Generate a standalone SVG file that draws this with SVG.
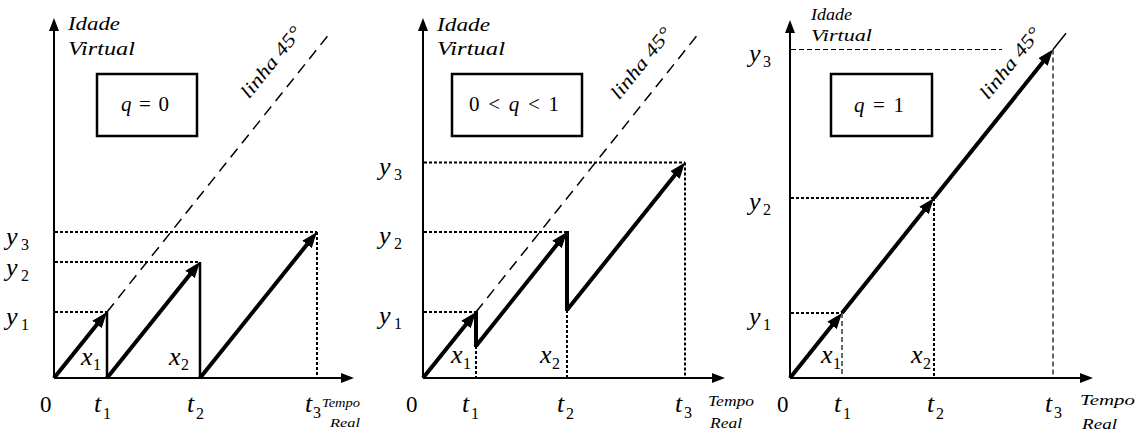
<svg xmlns="http://www.w3.org/2000/svg" width="1143" height="436" viewBox="0 0 1143 436">
<defs>
<marker id="ah" markerUnits="userSpaceOnUse" markerWidth="16" markerHeight="12" refX="6" refY="6" orient="auto"><path d="M0,0 L16,6 L0,12 Z" fill="#000"/></marker>
<marker id="axh" markerUnits="userSpaceOnUse" markerWidth="13" markerHeight="10" refX="5" refY="5" orient="auto"><path d="M0,0 L13,5 L0,10 Z" fill="#000"/></marker>
</defs>
<style>
.axis{stroke:#000;stroke-width:2;fill:none;marker-end:url(#axh)}
.thick{stroke:#000;stroke-width:4;fill:none;marker-end:url(#ah)}
.seg{stroke:#000;stroke-width:4;fill:none}
.drop{stroke:#000;stroke-width:2.5;fill:none}
.dot{stroke:#000;stroke-width:2;stroke-dasharray:3 2;fill:none}
.thin{stroke:#000;stroke-width:1.2;stroke-dasharray:5 3;fill:none}
.dash45{stroke:#000;stroke-width:1.5;stroke-dasharray:11 7;fill:none}
.box{fill:#fff;stroke:#000;stroke-width:2.5}
text{fill:#000}
.v{font-family:"Liberation Serif",serif;font-style:italic;font-size:26px}
.s{font-family:"Liberation Serif",serif;font-size:16px}
.n{font-family:"Liberation Serif",serif;font-size:23px}
.lab{font-family:"Liberation Serif",serif;font-style:italic}
.q{font-family:"Liberation Serif",serif;font-size:21px}
</style>
<rect width="1143" height="436" fill="#fff"/>

<!-- Panel 1 -->
<g id="panel1">
  <g id="p1-axes">
    <path class="axis" d="M54,378 V26"/>
    <path class="axis" d="M54,378 H346"/>
  </g>
  <g id="p1-guides">
    <path class="dot" d="M55,312 H107 M55,262 H200 M55,232 H317 M317,232 V378"/>
    <path class="dash45" d="M107,312 L330,33"/>
  </g>
  <g id="p1-box">
    <rect class="box" x="97" y="74" width="100" height="62"/>
    <text class="q" x="145" y="111" text-anchor="middle" textLength="48"><tspan font-style="italic">q</tspan> = 0</text>
  </g>
  <g id="p1-labels">
    <text class="lab" x="68" y="30" font-size="18" textLength="52" lengthAdjust="spacingAndGlyphs">Idade</text>
    <text class="lab" x="68" y="55" font-size="18" textLength="67" lengthAdjust="spacingAndGlyphs">Virtual</text>
    <text class="lab" x="276" y="66" font-size="19" text-anchor="middle" textLength="86" lengthAdjust="spacingAndGlyphs" transform="rotate(-51.3 276 66)">linha 45°</text>
    <text class="v" x="6" y="245">y</text><text class="s" x="21" y="250">3</text>
    <text class="v" x="6" y="276">y</text><text class="s" x="21" y="281">2</text>
    <text class="v" x="6" y="325">y</text><text class="s" x="21" y="330">1</text>
    <text class="v" x="81" y="365">x</text><text class="s" x="93" y="370">1</text>
    <text class="v" x="169" y="365">x</text><text class="s" x="181" y="370">2</text>
    <text class="n" x="40" y="412">0</text>
    <text class="v" x="94" y="412">t</text><text class="s" x="103" y="419">1</text>
    <text class="v" x="187" y="412">t</text><text class="s" x="196" y="419">2</text>
    <text class="v" x="305" y="412">t</text><text class="s" x="313" y="418">3</text>
    <text class="lab" x="322" y="407" font-size="13" textLength="38" lengthAdjust="spacingAndGlyphs">Tempo</text>
    <text class="lab" x="330" y="427" font-size="13" textLength="30" lengthAdjust="spacingAndGlyphs">Real</text>
  </g>
</g>

<!-- Panel 2 -->
<g id="panel2">
  <g id="p2-axes">
    <path class="axis" d="M423,378 V26"/>
    <path class="axis" d="M423,378 H717"/>
  </g>
  <g id="p2-guides">
    <path class="dot" d="M424,312 H476 M424,232 H567 M424,162.5 H685 M476,346 V378 M567,310 V378 M685,162.5 V378"/>
    <path class="dash45" d="M476,312 L699,33"/>
  </g>
  <g id="p2-box">
    <rect class="box" x="452" y="74" width="130" height="62"/>
    <text class="q" x="514" y="111" text-anchor="middle" textLength="90">0 &lt; <tspan font-style="italic">q</tspan> &lt; 1</text>
  </g>
  <g id="p2-labels">
    <text class="lab" x="437" y="31" font-size="18" textLength="53" lengthAdjust="spacingAndGlyphs">Idade</text>
    <text class="lab" x="437" y="55" font-size="18" textLength="68" lengthAdjust="spacingAndGlyphs">Virtual</text>
    <text class="lab" x="646" y="67" font-size="19" text-anchor="middle" textLength="86" lengthAdjust="spacingAndGlyphs" transform="rotate(-51.3 646 67)">linha 45°</text>
    <text class="v" x="379" y="175">y</text><text class="s" x="394" y="180">3</text>
    <text class="v" x="379" y="244">y</text><text class="s" x="394" y="249">2</text>
    <text class="v" x="379" y="324">y</text><text class="s" x="394" y="329">1</text>
    <text class="v" x="451" y="363">x</text><text class="s" x="463" y="369">1</text>
    <text class="v" x="540" y="363">x</text><text class="s" x="552" y="369">2</text>
    <text class="n" x="406" y="412">0</text>
    <text class="v" x="462" y="412">t</text><text class="s" x="471" y="419">1</text>
    <text class="v" x="557" y="412">t</text><text class="s" x="566" y="419">2</text>
    <text class="v" x="675" y="412">t</text><text class="s" x="684" y="418">3</text>
    <text class="lab" x="708" y="406" font-size="14" textLength="46" lengthAdjust="spacingAndGlyphs">Tempo</text>
    <text class="lab" x="710" y="428" font-size="14" textLength="32" lengthAdjust="spacingAndGlyphs">Real</text>
  </g>
</g>

<!-- Panel 3 -->
<g id="panel3">
  <g id="p3-axes">
    <path class="axis" d="M790,378 V28"/>
    <path class="axis" d="M790,378 H1085"/>
  </g>
  <g id="p3-guides">
    <path class="dot" d="M791,313 H842 M791,198 H934 M934,198 V378"/>
    <path class="thin" d="M791,49.5 H1002 M842,313 V378 M1053,49.5 V378"/>
    <path d="M1053,49.5 L1066,33.3" stroke="#000" stroke-width="1.5" fill="none"/>
  </g>
  <g id="p3-box">
    <rect class="box" x="831" y="74" width="101" height="62"/>
    <text class="q" x="879" y="112" text-anchor="middle" textLength="50"><tspan font-style="italic">q</tspan> = 1</text>
  </g>
  <g id="p3-labels">
    <text class="lab" x="811" y="20" font-size="16" textLength="41" lengthAdjust="spacingAndGlyphs">Idade</text>
    <text class="lab" x="811" y="41" font-size="16" textLength="61" lengthAdjust="spacingAndGlyphs">Virtual</text>
    <text class="lab" x="1015" y="67" font-size="19" text-anchor="middle" textLength="86" lengthAdjust="spacingAndGlyphs" transform="rotate(-51.3 1015 67)">linha 45°</text>
    <text class="v" x="749" y="62">y</text><text class="s" x="763" y="67">3</text>
    <text class="v" x="749" y="210">y</text><text class="s" x="763" y="215">2</text>
    <text class="v" x="749" y="325">y</text><text class="s" x="763" y="330">1</text>
    <text class="v" x="821" y="363">x</text><text class="s" x="833" y="369">1</text>
    <text class="v" x="911" y="363">x</text><text class="s" x="923" y="369">2</text>
    <text class="n" x="777" y="412">0</text>
    <text class="v" x="834" y="412">t</text><text class="s" x="843" y="419">1</text>
    <text class="v" x="927" y="412">t</text><text class="s" x="936" y="419">2</text>
    <text class="v" x="1045" y="412">t</text><text class="s" x="1054" y="418">3</text>
    <text class="lab" x="1080" y="405" font-size="15" textLength="55" lengthAdjust="spacingAndGlyphs">Tempo</text>
    <text class="lab" x="1082" y="429" font-size="15" textLength="35" lengthAdjust="spacingAndGlyphs">Real</text>
  </g>
</g>

<!-- Connectors: thick arrows and drops -->
<g id="connectors">
  <path class="thick" d="M54,378 L100.75,319.8"/>
  <path class="thick" d="M107,378 L193.75,269.8"/>
  <path class="thick" d="M200,378 L310.75,239.8"/>
  <path class="drop" d="M107,312 V378 M200,262 V378"/>

  <path class="thick" d="M423,378 L469.75,319.8"/>
  <path class="seg" d="M476,311 V347"/>
  <path class="thick" d="M476,346 L560.75,239.8"/>
  <path class="seg" d="M567,231 V311"/>
  <path class="thick" d="M567,310 L678.75,170.3"/>

  <path class="thick" d="M790,378 L835.75,320.8"/>
  <path class="thick" d="M842,313 L927.75,205.8"/>
  <path class="thick" d="M934,198 L1046.75,57.3"/>
</g>
</svg>
